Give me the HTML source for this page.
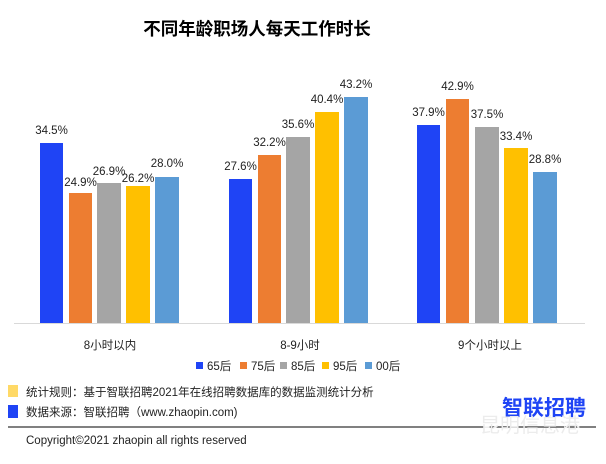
<!DOCTYPE html>
<html><head><meta charset="utf-8"><style>
body{margin:0;background:#fff;}
svg text{font-family:"Liberation Sans","Noto Sans CJK SC",sans-serif;}
</style></head><body>
<svg width="606" height="459" viewBox="0 0 606 459" xmlns="http://www.w3.org/2000/svg">
<rect width="606" height="459" fill="#fff"/>
<text x="257" y="35" text-anchor="middle" font-size="17.5" font-weight="bold" fill="#000">不同年龄职场人每天工作时长</text>
<g font-size="11.5" fill="#222" text-anchor="middle">
<rect x="40" y="143" width="23" height="180" fill="#1f44f5"/><text x="51.5" y="134" fill="#222">34.5%</text>
<rect x="69" y="193" width="23" height="130" fill="#ed7d31"/><text x="80.5" y="186" fill="#222">24.9%</text>
<rect x="97" y="183" width="24" height="140" fill="#a5a5a5"/><text x="109" y="175" fill="#222">26.9%</text>
<rect x="126" y="186" width="24" height="137" fill="#ffc000"/><text x="138" y="182" fill="#222">26.2%</text>
<rect x="155" y="177" width="24" height="146" fill="#5b9bd5"/><text x="167" y="167" fill="#222">28.0%</text>
<rect x="229" y="179" width="23" height="144" fill="#1f44f5"/><text x="240.5" y="170" fill="#222">27.6%</text>
<rect x="258" y="155" width="23" height="168" fill="#ed7d31"/><text x="269.5" y="146" fill="#222">32.2%</text>
<rect x="286" y="137" width="24" height="186" fill="#a5a5a5"/><text x="298" y="128" fill="#222">35.6%</text>
<rect x="315" y="112" width="24" height="211" fill="#ffc000"/><text x="327" y="103" fill="#222">40.4%</text>
<rect x="344" y="97" width="24" height="226" fill="#5b9bd5"/><text x="356" y="88" fill="#222">43.2%</text>
<rect x="417" y="125" width="23" height="198" fill="#1f44f5"/><text x="428.5" y="116" fill="#222">37.9%</text>
<rect x="446" y="99" width="23" height="224" fill="#ed7d31"/><text x="457.5" y="90" fill="#222">42.9%</text>
<rect x="475" y="127" width="24" height="196" fill="#a5a5a5"/><text x="487" y="118" fill="#222">37.5%</text>
<rect x="504" y="148" width="24" height="175" fill="#ffc000"/><text x="516" y="140" fill="#222">33.4%</text>
<rect x="533" y="172" width="24" height="151" fill="#5b9bd5"/><text x="545" y="163" fill="#222">28.8%</text>
</g>
<line x1="14" y1="323.5" x2="585" y2="323.5" stroke="#d9d9d9" stroke-width="1"/>
<g font-size="11.5" fill="#222" text-anchor="middle">
<text x="110" y="349">8小时以内</text>
<text x="300" y="349">8-9小时</text>
<text x="490" y="349">9个小时以上</text>
</g>
<g font-size="11.5" fill="#222">
<rect x="196" y="362" width="7" height="7" fill="#1f44f5"/><text x="207" y="370">65后</text>
<rect x="240" y="362" width="7" height="7" fill="#ed7d31"/><text x="251" y="370">75后</text>
<rect x="280" y="362" width="7" height="7" fill="#a5a5a5"/><text x="291" y="370">85后</text>
<rect x="322" y="362" width="7" height="7" fill="#ffc000"/><text x="333" y="370">95后</text>
<rect x="365" y="362" width="7" height="7" fill="#5b9bd5"/><text x="376" y="370">00后</text>
</g>
<rect x="8" y="385" width="10" height="12" fill="#ffd966"/>
<text x="26" y="396" font-size="11.5" fill="#222">统计规则：基于智联招聘2021年在线招聘数据库的数据监测统计分析</text>
<rect x="8" y="405" width="10" height="13" fill="#1f44f5"/>
<text x="26" y="416" font-size="11.5" fill="#222">数据来源：智联招聘（www.zhaopin.com)</text>
<line x1="8" y1="427" x2="596" y2="427" stroke="#000" stroke-width="1"/>
<text x="26" y="444" font-size="11.5" fill="#222">Copyright©2021 zhaopin  all rights reserved</text>
<text x="502" y="415" font-size="21" font-weight="bold" fill="#1f44f5" font-family="Noto Sans CJK SC,sans-serif">智联招聘</text>
<text x="480" y="432" font-size="20" fill="#ececec">昆明信息港</text>
</svg>
</body></html>
